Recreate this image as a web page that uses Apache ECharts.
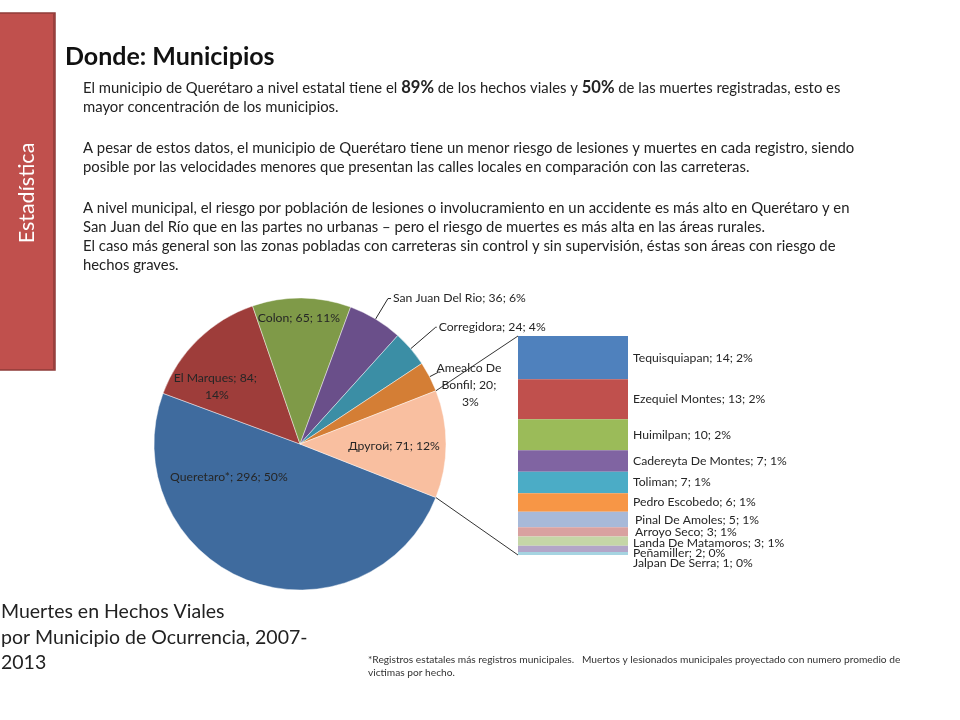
<!DOCTYPE html>
<html>
<head>
<meta charset="utf-8">
<script src="https://cdn.jsdelivr.net/npm/echarts@6/dist/echarts.min.js"></script>
<style>html,body{margin:0;padding:0;background:#fff}#c{width:960px;height:720px}</style>
</head>
<body>
<div id="c"></div>
<script>
// ---- data ----
const pieNames = ['Queretaro*', 'El Marques', 'Colon', 'San Juan Del Rio', 'Corregidora', 'Amealco De Bonfil', 'Другой'];
const pieValues = [296, 84, 65, 36, 24, 20, 71];
const barNames = ['Tequisquiapan', 'Ezequiel Montes', 'Huimilpan', 'Cadereyta De Montes', 'Toliman', 'Pedro Escobedo', 'Pinal De Amoles', 'Arroyo Seco', 'Landa De Matamoros', 'Peñamiller', 'Jalpan De Serra'];
const barValues = [14, 13, 10, 7, 7, 6, 5, 3, 3, 2, 1];

// ---- styles ----
const pieColors = ['#3F6B9E', '#9E3D3A', '#7F9A48', '#6A4F8A', '#3B8EA5', '#D47E35', '#F9BFA0'];
const barColors = ['#4F81BD', '#C0504D', '#9BBB59', '#8064A2', '#4BACC6', '#F79646', '#A7B9D9', '#D9A1A0', '#C5D6A7', '#B3A6C8', '#A6D4E1'];
const FONT = 'Lato, "Open Sans", sans-serif';
const TXT = '#262626';

const total = pieValues.reduce((a, b) => a + b, 0);
const barTotal = barValues.reduce((a, b) => a + b, 0);
const pct = v => Math.round(v / total * 100);

const pieCenter = [300, 444], pieR = 146, pieStart = 338.5;
const grid = { left: 518, top: 336, width: 110, height: 219 };

const pieInside = { 'Queretaro*': 1, 'El Marques': 1, 'Colon': 1, 'Другой': 1 };
const pieLine = { 'San Juan Del Rio': [24, 3], 'Corregidora': [33, 1], 'Amealco De Bonfil': [10, 2] };
const pieWidth = { 'El Marques': 100, 'Amealco De Bonfil': 70 };
const pieShift = { 'Queretaro*': [-22, -19], 'El Marques': [-15, -1.5], 'Colon': [-1, -25], 'Другой': [9, 1], 'Amealco De Bonfil': [14, 6.5, 'center'] };
const barShift = { 'Pinal De Amoles': [2, 1], 'Arroyo Seco': [2, 0], 'Landa De Matamoros': [0, 2], 'Peñamiller': [0, 4], 'Jalpan De Serra': [0, 10] };

const pieData = pieNames.map((n, i) => {
  const inside = !!pieInside[n];
  const lab = { position: inside ? 'inside' : 'outside' };
  if (pieWidth[n]) { lab.width = pieWidth[n]; lab.overflow = 'break'; }
  const ll = inside ? { show: false } : { show: true, length: pieLine[n][0], length2: pieLine[n][1] };
  return { name: n, value: pieValues[i], itemStyle: { color: pieColors[i] }, label: lab, labelLine: ll };
});

const barSeries = barNames.map((n, i) => ({
  type: 'bar', name: n, stack: 'other', data: [barValues[i]],
  barWidth: '100%', itemStyle: { color: barColors[i] },
  label: {
    show: true, position: 'right', distance: 5, fontFamily: FONT, fontSize: 12.2, color: TXT,
    offset: barShift[n] || [0, 0],
    formatter: p => p.seriesName + '; ' + p.value + '; ' + pct(p.value) + '%'
  },
  emphasis: { disabled: true },
  xAxisIndex: 0, yAxisIndex: 0
}));

const paraX = 83;
const paraLines = [
  [88, 'El municipio de Querétaro a nivel estatal tiene el {b|89%} de los hechos viales y {b|50%} de las muertes registradas, esto es'],
  [107, 'mayor concentración de los municipios.'],
  [148, 'A pesar de estos datos, el municipio de Querétaro tiene un menor riesgo de lesiones y muertes en cada registro, siendo'],
  [167, 'posible por las velocidades menores que presentan las calles locales en comparación con las carreteras.'],
  [208, 'A nivel municipal, el riesgo por población de lesiones o involucramiento en un accidente es más alto en Querétaro y en'],
  [227, 'San Juan del Río que en las partes no urbanas – pero el riesgo de muertes es más alta en las áreas rurales.'],
  [246, 'El caso más general son las zonas pobladas con carreteras sin control y sin supervisión, éstas son áreas con riesgo de'],
  [265, 'hechos graves.']
];

const graphics = [
  { id: 'sb', type: 'rect', shape: { x: -2, y: 13, width: 57, height: 357 }, style: { fill: '#C0504D', stroke: '#8E3B38', lineWidth: 1.5 }, z: 1 },
  { id: 'sbs', type: 'rect', shape: { x: 53, y: 14, width: 2, height: 356 }, style: { fill: '#9A403D' }, z: 2 },
  { id: 'sbt', type: 'text', x: 27, y: 193, rotation: Math.PI / 2, style: { text: 'Estadística', fill: '#fff', font: '21.5px ' + FONT, align: 'center', verticalAlign: 'middle' }, z: 3 },
  { id: 'ttl', type: 'text', x: 65, y: 57, style: { text: 'Donde: Municipios', fill: '#111', font: 'bold 25px ' + FONT, align: 'left', verticalAlign: 'middle' } },
  { id: 'ct1', type: 'text', x: 1, y: 612, style: { text: 'Muertes en Hechos Viales', fill: '#222', font: '19.5px ' + FONT, verticalAlign: 'middle' } },
  { id: 'ct2', type: 'text', x: 1, y: 638, style: { text: 'por Municipio de Ocurrencia, 2007-', fill: '#222', font: '19.5px ' + FONT, verticalAlign: 'middle' } },
  { id: 'ct3', type: 'text', x: 1, y: 663, style: { text: '2013', fill: '#222', font: '19.5px ' + FONT, verticalAlign: 'middle' } },
  { id: 'fn1', type: 'text', x: 368, y: 660, style: { text: '*Registros estatales más registros municipales.   Muertos y lesionados municipales proyectado con numero promedio de', fill: '#333', font: '10.2px ' + FONT, verticalAlign: 'middle' } },
  { id: 'fn2', type: 'text', x: 368, y: 673, style: { text: 'victimas por hecho.', fill: '#333', font: '10.2px ' + FONT, verticalAlign: 'middle' } }
];
paraLines.forEach((l, i) => graphics.push({
  id: 'p' + i, type: 'text', x: paraX, y: l[0],
  style: { text: l[1], fill: '#222', font: '14.85px ' + FONT, verticalAlign: 'middle', rich: { b: { font: 'bold 16.6px ' + FONT, fill: '#222' } } }
}));

const chart = echarts.init(document.getElementById('c'), null, { renderer: 'canvas' });
chart.setOption({
  animation: false,
  backgroundColor: '#fff',
  grid: { left: grid.left, top: grid.top, width: grid.width, height: grid.height, containLabel: false },
  xAxis: { type: 'category', data: ['Другой'], show: false },
  yAxis: { type: 'value', min: 0, max: barTotal, inverse: true, show: false },
  series: [{
    type: 'pie', center: pieCenter, radius: pieR, startAngle: pieStart, clockwise: true,
    avoidLabelOverlap: false, emphasis: { disabled: true },
    itemStyle: { borderColor: 'rgba(255,255,255,0.55)', borderWidth: 0.8 },
    label: {
      fontFamily: FONT, fontSize: 12.2, color: TXT, distanceToLabelLine: 2, lineHeight: 17,
      formatter: p => p.name + '; ' + p.value + '; ' + pct(p.value) + '%'
    },
    labelLine: { lineStyle: { color: TXT, width: 1 } },
    labelLayout: p => {
      const s = pieShift[pieNames[p.dataIndex]];
      if (!s) return {};
      const o = { dx: s[0], dy: s[1] };
      if (s[2]) o.align = s[2];
      return o;
    },
    data: pieData
  }].concat(barSeries),
  graphic: graphics
});

// connector lines from the "Другой" slice edges to the stacked bar
const cum = pieValues.slice(0, 6).reduce((a, b) => a + b, 0);
const ang = v => (pieStart - 360 * v / total) * Math.PI / 180;
const a1 = ang(cum), a2 = ang(cum + pieValues[6]);
const e1 = [pieCenter[0] + pieR * Math.cos(a1), pieCenter[1] - pieR * Math.sin(a1)];
const e2 = [pieCenter[0] + pieR * Math.cos(a2), pieCenter[1] - pieR * Math.sin(a2)];
const yTop = chart.convertToPixel({ yAxisIndex: 0 }, 0);
const yBot = chart.convertToPixel({ yAxisIndex: 0 }, barTotal);
chart.setOption({
  graphic: [
    { id: 'cl1', type: 'line', shape: { x1: e1[0], y1: e1[1], x2: grid.left, y2: yTop }, style: { stroke: '#333', lineWidth: 1 }, z: 10 },
    { id: 'cl2', type: 'line', shape: { x1: e2[0], y1: e2[1], x2: grid.left, y2: yBot }, style: { stroke: '#333', lineWidth: 1 }, z: 10 }
  ]
});
</script>
</body>
</html>
